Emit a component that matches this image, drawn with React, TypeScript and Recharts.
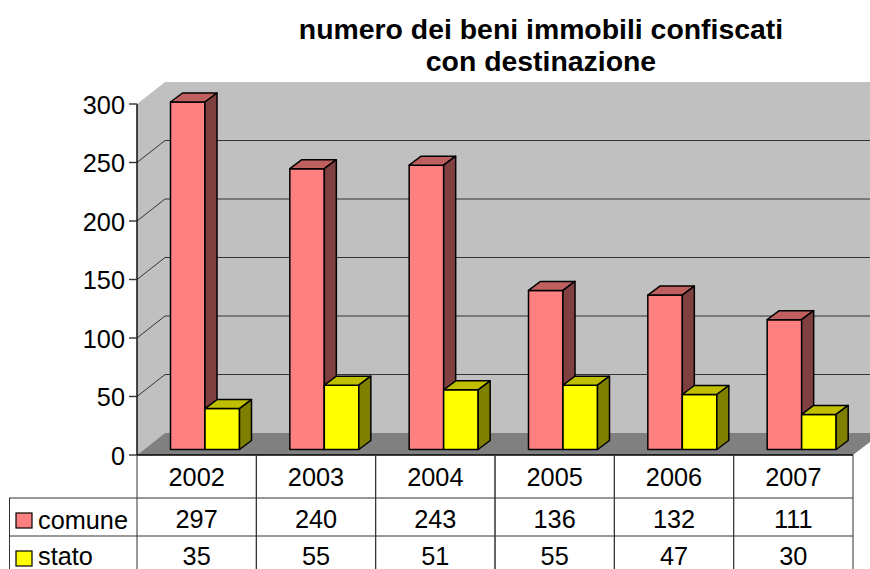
import { BarChart, Bar, XAxis, YAxis, CartesianGrid, Customized } from "recharts";

const years = ["2002", "2003", "2004", "2005", "2006", "2007"];
const comune = [297, 240, 243, 136, 132, 111];
const stato = [35, 55, 51, 55, 47, 30];
const yTicks = [0, 50, 100, 150, 200, 250, 300];
const titleLines = ["numero dei beni immobili confiscati", "con destinazione"];

const data = years.map((year, i) => ({ year, comune: comune[i], stato: stato[i] }));

const FONT = "'Liberation Sans', Arial, sans-serif";
const W = 870;
const H = 569;
const LEFT = 137;
const RIGHT = 853;
const TOP = 104;
const BOTTOM = 455;
// depth of the box and of the bars
const DX = 28;
const DY = -22;
const BAR_DX = 12;
const BAR_DY = -9;
const BAR_SHIFT_X = 8.5;
const BAR_SHIFT_Y = -5.5;

const Bar3D = ({ x, y, width, height, fill, top, side }: any) => {
  const l = x + BAR_SHIFT_X;
  const r = l + width;
  const t = y + BAR_SHIFT_Y;
  const b = t + height;
  const style = { stroke: "#000", strokeWidth: 1.5, strokeLinejoin: "round" as const };
  return (
    <g>
      <rect x={l} y={t} width={width} height={height} fill={fill} {...style} />
      <polygon points={`${l},${t} ${l + BAR_DX},${t + BAR_DY} ${r + BAR_DX},${t + BAR_DY} ${r},${t}`} fill={top} {...style} />
      <polygon points={`${r},${t} ${r + BAR_DX},${t + BAR_DY} ${r + BAR_DX},${b + BAR_DY} ${r},${b}`} fill={side} {...style} />
    </g>
  );
};

// sits behind the chart, grid lines have to show on top of it
const Walls = () => (
  <svg width={W} height={H} style={{ position: "absolute", left: 0, top: 0 }}>
    <polygon
      points={`${LEFT},${TOP} ${LEFT + DX},${TOP + DY} ${W},${TOP + DY} ${W},${BOTTOM + DY} ${LEFT + DX},${BOTTOM + DY} ${LEFT},${BOTTOM}`}
      fill="#c0c0c0"
    />
    <polygon
      points={`${LEFT},${BOTTOM} ${LEFT + DX},${BOTTOM + DY} ${W},${BOTTOM + DY} ${W},${BOTTOM - 13} ${RIGHT},${BOTTOM}`}
      fill="#808080"
    />
  </svg>
);

const Frame = () => (
  <g fontFamily={FONT} fill="#000">
    {titleLines.map((line, i) => (
      <text key={line} x={541} y={39 + i * 32} textAnchor="middle" fontSize={28.4} fontWeight="bold">
        {line}
      </text>
    ))}
    <line x1={LEFT} y1={BOTTOM} x2={RIGHT} y2={BOTTOM} stroke="#000" strokeWidth={1.4} />
    <line x1={9} y1={498} x2={RIGHT} y2={498} stroke="#333" />
    <line x1={9} y1={536} x2={RIGHT} y2={536} stroke="#333" />
    <line x1={9.5} y1={498} x2={9.5} y2={H} stroke="#333" />
    <rect x={16} y={513} width={16} height={15} fill="#ff8080" stroke="#000" strokeWidth={1.2} />
    <rect x={16} y={551} width={16} height={15} fill="#ffff00" stroke="#000" strokeWidth={1.2} />
    <text x={38} y={529} fontSize={25.3}>comune</text>
    <text x={38} y={565} fontSize={25.3}>stato</text>
  </g>
);

// the data table under the plot hangs off the category axis
const TableTick = ({ x, payload }: any) => {
  const half = (RIGHT - LEFT) / years.length / 2;
  const i = payload.index;
  return (
    <g fontFamily={FONT} fontSize={25.3} textAnchor="middle" fill="#000">
      <line x1={x - half} y1={BOTTOM} x2={x - half} y2={H} stroke="#333" />
      <line x1={x + half} y1={BOTTOM} x2={x + half} y2={H} stroke="#333" />
      <text x={x} y={486}>{payload.value}</text>
      <text x={x} y={528}>{comune[i]}</text>
      <text x={x} y={565}>{stato[i]}</text>
    </g>
  );
};

const GridLine = ({ x1, y1, index }: any) => {
  if (y1 <= TOP + 1 || y1 >= BOTTOM - 1) return <g key={index} />;
  return (
    <polyline
      key={index}
      points={`${x1},${y1} ${x1 + DX},${y1 + DY} ${W},${y1 + DY}`}
      fill="none"
      stroke="#333"
      strokeWidth={1}
    />
  );
};

export default function App() {
  return (
    <div style={{ position: "absolute", left: 0, top: 0, width: W, height: H, overflow: "hidden", background: "#fff" }}>
      <Walls />
      <BarChart
        width={W}
        height={H}
        data={data}
        barSize={34.5}
        barGap={0}
        barCategoryGap={0}
        margin={{ top: TOP, right: W - RIGHT, left: 0, bottom: 0 }}
      >
        <CartesianGrid vertical={false} horizontal={GridLine as any} />
        <XAxis dataKey="year" height={H - BOTTOM} axisLine={false} tickLine={false} tick={TableTick} interval={0} />
        <YAxis
          width={LEFT}
          domain={[0, 300]}
          ticks={yTicks}
          interval={0}
          tickSize={8}
          tickMargin={4}
          axisLine={{ stroke: "#000", strokeWidth: 1.4 }}
          tickLine={{ stroke: "#333", strokeWidth: 1.4 }}
          tick={{ fill: "#000", fontSize: 25.3, fontFamily: FONT, dy: 1 }}
        />
        <Bar
          dataKey="comune"
          isAnimationActive={false}
          shape={(p: any) => <Bar3D {...p} fill="#ff8080" top="#bf6060" side="#804040" />}
        />
        <Bar
          dataKey="stato"
          isAnimationActive={false}
          shape={(p: any) => <Bar3D {...p} fill="#ffff00" top="#bfbf00" side="#808000" />}
        />
        <Customized component={Frame} />
      </BarChart>
    </div>
  );
}
